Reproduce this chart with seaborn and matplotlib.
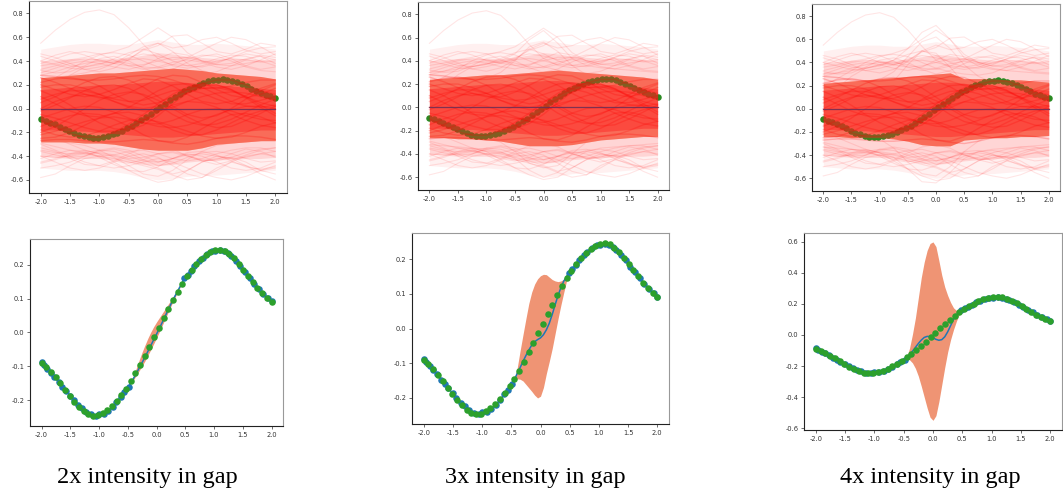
import numpy as np
import pandas as pd
import matplotlib
matplotlib.use("Agg")
import matplotlib.pyplot as plt
import seaborn as sns

# ---------------- data ----------------
# latent function sampled on an even grid (green dots)
X_TRUE = np.linspace(-2, 2, 50)
Y_TRUE = [-0.090, -0.103, -0.117, -0.133, -0.151, -0.170, -0.188, -0.205, -0.221, -0.234,
          -0.242, -0.246, -0.245, -0.239, -0.229, -0.217, -0.202, -0.185, -0.166, -0.145,
          -0.121, -0.096, -0.069, -0.042, -0.014,
          0.014, 0.042, 0.069, 0.096, 0.121, 0.145, 0.166, 0.185, 0.202, 0.217,
          0.229, 0.238, 0.244, 0.245, 0.242, 0.233, 0.220, 0.204, 0.186, 0.168,
          0.150, 0.132, 0.116, 0.102, 0.090]

# observations outside the gap (blue dots)
OBS_X = [-2.00, -1.96, -1.90, -1.84, -1.78, -1.70, -1.64, -1.58, -1.50, -1.44, -1.36, -1.30,
         -1.22, -1.14, -1.06, -1.00, -0.92, -0.84, -0.76, -0.70, -0.62, -0.56, -0.48,
         0.48, 0.54, 0.60, 0.66, 0.74, 0.80, 0.88, 0.96, 1.02, 1.10, 1.18, 1.24, 1.30,
         1.38, 1.46, 1.54, 1.62, 1.70, 1.78, 1.86, 1.94, 2.00]
OBS_Y = [-0.087, -0.097, -0.107, -0.119, -0.131, -0.147, -0.160, -0.172, -0.187, -0.199, -0.214, -0.224,
         -0.235, -0.242, -0.246, -0.240, -0.240, -0.232, -0.220, -0.207, -0.190, -0.177, -0.160,
         0.160, 0.171, 0.183, 0.196, 0.211, 0.221, 0.232, 0.240, 0.241, 0.243, 0.240, 0.235, 0.226,
         0.212, 0.196, 0.178, 0.162, 0.145, 0.129, 0.115, 0.101, 0.092]

# posterior mean and band inside the gap
BAND_X = [-0.48, -0.45, -0.40, -0.35, -0.30, -0.25, -0.20, -0.15, -0.10, -0.05, 0.00,
          0.05, 0.10, 0.15, 0.20, 0.25, 0.30, 0.35, 0.40, 0.45, 0.48]

MEAN_2X = [-0.160, -0.150, -0.136, -0.121, -0.105, -0.089, -0.073, -0.056, -0.039, -0.022, -0.005,
           0.012, 0.030, 0.048, 0.066, 0.084, 0.101, 0.117, 0.133, 0.148, 0.160]
HI_2X = [-0.160, -0.148, -0.128, -0.105, -0.081, -0.058, -0.037, -0.017, 0.001, 0.017, 0.031,
         0.044, 0.057, 0.070, 0.083, 0.096, 0.109, 0.122, 0.136, 0.149, 0.160]
LO_2X = [-0.160, -0.152, -0.140, -0.127, -0.113, -0.099, -0.084, -0.068, -0.051, -0.034, -0.016,
         0.002, 0.021, 0.040, 0.059, 0.078, 0.096, 0.114, 0.131, 0.147, 0.160]

MEAN_3X = [-0.160, -0.148, -0.130, -0.113, -0.095, -0.078, -0.062, -0.048, -0.038, -0.032, -0.027,
           -0.018, -0.004, 0.015, 0.040, 0.068, 0.095, 0.118, 0.137, 0.150, 0.160]
HI_3X = [-0.160, -0.146, -0.115, -0.065, -0.018, 0.028, 0.072, 0.105, 0.128, 0.143, 0.152,
         0.156, 0.155, 0.148, 0.141, 0.137, 0.135, 0.137, 0.142, 0.150, 0.160]
LO_3X = [-0.160, -0.150, -0.145, -0.146, -0.151, -0.161, -0.171, -0.181, -0.192, -0.200, -0.195,
         -0.170, -0.130, -0.095, -0.058, -0.015, 0.028, 0.068, 0.105, 0.140, 0.160]

MEAN_4X = [-0.160, -0.148, -0.128, -0.105, -0.080, -0.055, -0.033, -0.016, -0.009, -0.010, -0.018,
           -0.028, -0.034, -0.030, -0.012, 0.020, 0.060, 0.100, 0.130, 0.148, 0.160]
HI_4X = [-0.160, -0.145, -0.085, 0.005, 0.110, 0.240, 0.370, 0.470, 0.545, 0.590, 0.600,
         0.570, 0.480, 0.385, 0.310, 0.255, 0.210, 0.175, 0.158, 0.155, 0.160]
LO_4X = [-0.160, -0.150, -0.160, -0.180, -0.215, -0.265, -0.330, -0.400, -0.470, -0.530, -0.550,
         -0.520, -0.430, -0.320, -0.210, -0.110, -0.030, 0.035, 0.090, 0.135, 0.160]

# function samples (red curves) on a coarse grid
KNOTS_X = np.linspace(-2, 2, 17)
PRIOR_MEAN = [0.0] * 17

OUTER_SAMPLES = [
    [0.55, 0.66, 0.75, 0.81, 0.83, 0.79, 0.68, 0.54, 0.42, 0.36, 0.34, 0.36, 0.40, 0.42, 0.41, 0.39, 0.40],
    [0.20, 0.26, 0.33, 0.40, 0.45, 0.48, 0.52, 0.60, 0.68, 0.60, 0.47, 0.40, 0.39, 0.43, 0.48, 0.51, 0.52],
    [0.46, 0.43, 0.38, 0.33, 0.31, 0.34, 0.41, 0.50, 0.55, 0.51, 0.53, 0.58, 0.60, 0.55, 0.49, 0.46, 0.48],
    [0.40, 0.45, 0.48, 0.45, 0.40, 0.38, 0.42, 0.49, 0.53, 0.61, 0.62, 0.55, 0.48, 0.46, 0.50, 0.55, 0.53],
    [0.10, 0.18, 0.28, 0.35, 0.38, 0.39, 0.43, 0.46, 0.44, 0.41, 0.43, 0.49, 0.55, 0.60, 0.58, 0.52, 0.45],
    [0.36, 0.38, 0.41, 0.43, 0.46, 0.47, 0.45, 0.40, 0.35, 0.32, 0.30, 0.29, 0.31, 0.36, 0.41, 0.45, 0.43],
    [-0.45, -0.42, -0.38, -0.35, -0.38, -0.45, -0.52, -0.58, -0.62, -0.60, -0.52, -0.45, -0.42, -0.41, -0.45, -0.52, -0.55],
    [-0.58, -0.55, -0.48, -0.42, -0.40, -0.42, -0.45, -0.48, -0.51, -0.56, -0.60, -0.58, -0.50, -0.45, -0.48, -0.52, -0.50],
    [-0.30, -0.35, -0.40, -0.45, -0.48, -0.50, -0.48, -0.45, -0.42, -0.45, -0.50, -0.55, -0.58, -0.60, -0.57, -0.52, -0.48],
    [-0.40, -0.45, -0.50, -0.52, -0.50, -0.45, -0.40, -0.38, -0.41, -0.48, -0.55, -0.58, -0.52, -0.45, -0.40, -0.38, -0.40],
    [-0.20, -0.25, -0.30, -0.35, -0.38, -0.40, -0.43, -0.46, -0.50, -0.55, -0.52, -0.45, -0.40, -0.42, -0.48, -0.55, -0.60],
    [-0.50, -0.48, -0.45, -0.40, -0.35, -0.33, -0.35, -0.40, -0.45, -0.42, -0.38, -0.40, -0.45, -0.50, -0.52, -0.50, -0.45],
    [0.30, 0.34, 0.38, 0.40, 0.38, 0.35, 0.33, 0.36, 0.42, 0.47, 0.45, 0.40, 0.37, 0.38, 0.42, 0.44, 0.41],
    [0.44, 0.40, 0.36, 0.35, 0.37, 0.42, 0.47, 0.50, 0.46, 0.40, 0.36, 0.35, 0.38, 0.43, 0.46, 0.44, 0.38],
    [-0.36, -0.39, -0.41, -0.40, -0.36, -0.34, -0.37, -0.43, -0.48, -0.46, -0.41, -0.37, -0.36, -0.38, -0.42, -0.45, -0.44],
    [-0.46, -0.43, -0.39, -0.37, -0.40, -0.44, -0.46, -0.43, -0.38, -0.36, -0.39, -0.44, -0.47, -0.44, -0.39, -0.35, -0.33],
    [0.32, 0.30, 0.31, 0.36, 0.42, 0.44, 0.40, 0.34, 0.30, 0.33, 0.39, 0.44, 0.46, 0.42, 0.36, 0.33, 0.35],
    [-0.33, -0.36, -0.42, -0.47, -0.48, -0.44, -0.38, -0.33, -0.31, -0.34, -0.40, -0.44, -0.43, -0.38, -0.34, -0.36, -0.41],
    [0.38, 0.42, 0.46, 0.48, 0.46, 0.41, 0.36, 0.33, 0.35, 0.39, 0.41, 0.39, 0.35, 0.33, 0.36, 0.41, 0.46],
    [-0.42, -0.38, -0.35, -0.36, -0.41, -0.47, -0.52, -0.53, -0.49, -0.42, -0.37, -0.36, -0.39, -0.44, -0.49, -0.51, -0.49],
    [0.33, 0.36, 0.40, 0.42, 0.41, 0.38, 0.36, 0.37, 0.40, 0.43, 0.43, 0.40, 0.37, 0.36, 0.38, 0.40, 0.41],
    [-0.35, -0.37, -0.38, -0.37, -0.35, -0.36, -0.40, -0.44, -0.45, -0.42, -0.39, -0.38, -0.40, -0.42, -0.41, -0.38, -0.36],
    [0.40, 0.37, 0.34, 0.33, 0.35, 0.38, 0.41, 0.42, 0.40, 0.37, 0.36, 0.38, 0.42, 0.45, 0.44, 0.40, 0.36],
    [-0.40, -0.41, -0.40, -0.38, -0.37, -0.39, -0.42, -0.41, -0.38, -0.37, -0.40, -0.43, -0.44, -0.41, -0.37, -0.34, -0.33],
    [0.28, 0.31, 0.35, 0.38, 0.40, 0.40, 0.38, 0.35, 0.34, 0.37, 0.42, 0.45, 0.44, 0.40, 0.35, 0.32, 0.31],
    [-0.29, -0.32, -0.35, -0.38, -0.40, -0.39, -0.36, -0.35, -0.38, -0.42, -0.44, -0.42, -0.38, -0.35, -0.33, -0.33, -0.36],
]

CORE_SAMPLES = [
    [0.22, 0.25, 0.26, 0.24, 0.19, 0.12, 0.06, 0.03, 0.05, 0.10, 0.16, 0.21, 0.24, 0.24, 0.20, 0.15, 0.12],
    [-0.20, -0.15, -0.08, 0.00, 0.07, 0.12, 0.14, 0.12, 0.07, 0.00, -0.07, -0.13, -0.16, -0.15, -0.10, -0.04, 0.02],
    [0.05, 0.10, 0.16, 0.22, 0.26, 0.27, 0.24, 0.18, 0.10, 0.02, -0.05, -0.08, -0.06, 0.00, 0.08, 0.15, 0.20],
    [-0.10, -0.16, -0.21, -0.24, -0.24, -0.20, -0.13, -0.05, 0.04, 0.12, 0.18, 0.21, 0.20, 0.16, 0.10, 0.03, -0.04],
    [0.15, 0.10, 0.03, -0.05, -0.12, -0.17, -0.18, -0.14, -0.06, 0.04, 0.13, 0.19, 0.20, 0.16, 0.09, 0.01, -0.06],
    [-0.25, -0.24, -0.20, -0.14, -0.08, -0.04, -0.03, -0.06, -0.12, -0.18, -0.22, -0.22, -0.18, -0.12, -0.06, -0.02, 0.00],
    [0.00, 0.06, 0.10, 0.12, 0.10, 0.06, 0.02, 0.00, 0.02, 0.07, 0.13, 0.17, 0.18, 0.15, 0.10, 0.05, 0.02],
    [-0.05, -0.08, -0.12, -0.16, -0.19, -0.19, -0.16, -0.10, -0.03, 0.03, 0.06, 0.05, 0.01, -0.05, -0.10, -0.14, -0.16],
    [0.26, 0.22, 0.17, 0.12, 0.09, 0.09, 0.13, 0.19, 0.25, 0.28, 0.27, 0.22, 0.16, 0.11, 0.09, 0.12, 0.17],
    [-0.15, -0.10, -0.06, -0.04, -0.05, -0.09, -0.15, -0.22, -0.27, -0.28, -0.24, -0.17, -0.10, -0.05, -0.04, -0.07, -0.12],
    [0.10, 0.04, -0.02, -0.06, -0.07, -0.04, 0.01, 0.08, 0.15, 0.20, 0.21, 0.18, 0.12, 0.06, 0.02, 0.01, 0.03],
    [-0.02, 0.03, 0.09, 0.15, 0.19, 0.20, 0.17, 0.11, 0.03, -0.05, -0.11, -0.14, -0.13, -0.09, -0.03, 0.03, 0.08],
    [0.18, 0.20, 0.20, 0.17, 0.12, 0.06, 0.01, -0.02, -0.02, 0.01, 0.06, 0.10, 0.13, 0.14, 0.13, 0.10, 0.07],
    [-0.22, -0.19, -0.15, -0.11, -0.08, -0.07, -0.09, -0.12, -0.15, -0.16, -0.14, -0.10, -0.05, -0.01, 0.02, 0.02, 0.00],
    [0.28, 0.27, 0.25, 0.24, 0.24, 0.25, 0.27, 0.28, 0.27, 0.24, 0.20, 0.17, 0.17, 0.19, 0.22, 0.24, 0.24],
    [-0.27, -0.26, -0.26, -0.27, -0.28, -0.28, -0.27, -0.26, -0.27, -0.29, -0.30, -0.28, -0.25, -0.23, -0.23, -0.24, -0.26],
    [0.08, 0.12, 0.15, 0.15, 0.12, 0.08, 0.06, 0.07, 0.11, 0.15, 0.16, 0.13, 0.08, 0.04, 0.04, 0.07, 0.10],
    [-0.08, -0.04, 0.00, 0.02, 0.01, -0.03, -0.08, -0.12, -0.13, -0.10, -0.05, -0.01, 0.00, -0.02, -0.06, -0.09, -0.10],
    [0.20, 0.16, 0.12, 0.10, 0.12, 0.16, 0.21, 0.25, 0.24, 0.19, 0.12, 0.06, 0.04, 0.06, 0.11, 0.17, 0.21],
    [-0.18, -0.22, -0.24, -0.23, -0.19, -0.14, -0.10, -0.09, -0.11, -0.15, -0.19, -0.23, -0.25, -0.24, -0.20, -0.15, -0.12],
]

# extra samples that spread out inside the gap, one set per intensity
GAP_SAMPLES_2X = [
    [0.25, 0.26, 0.28, 0.30, 0.33, 0.38, 0.45, 0.52, 0.55, 0.48, 0.38, 0.32, 0.29, 0.27, 0.26, 0.25, 0.24],
    [-0.26, -0.27, -0.29, -0.31, -0.35, -0.41, -0.48, -0.55, -0.57, -0.52, -0.43, -0.36, -0.31, -0.29, -0.28, -0.27, -0.26],
]
GAP_SAMPLES_3X = [
    [0.30, 0.31, 0.33, 0.35, 0.37, 0.40, 0.46, 0.58, 0.66, 0.55, 0.42, 0.36, 0.34, 0.33, 0.32, 0.31, 0.30],
    [-0.32, -0.33, -0.34, -0.35, -0.36, -0.38, -0.44, -0.54, -0.60, -0.56, -0.45, -0.38, -0.35, -0.34, -0.33, -0.32, -0.31],
    [0.18, 0.19, 0.20, 0.22, 0.25, 0.30, 0.40, 0.52, 0.56, 0.48, 0.36, 0.28, 0.24, 0.22, 0.21, 0.20, 0.19],
    [-0.15, -0.16, -0.18, -0.21, -0.25, -0.30, -0.38, -0.48, -0.52, -0.50, -0.40, -0.30, -0.24, -0.20, -0.18, -0.17, -0.16],
]
GAP_SAMPLES_4X = [
    [0.30, 0.31, 0.33, 0.35, 0.38, 0.42, 0.52, 0.66, 0.72, 0.60, 0.44, 0.37, 0.34, 0.33, 0.32, 0.31, 0.30],
    [-0.33, -0.34, -0.35, -0.36, -0.38, -0.42, -0.52, -0.63, -0.64, -0.55, -0.43, -0.37, -0.35, -0.34, -0.33, -0.32, -0.31],
    [0.15, 0.16, 0.18, 0.21, 0.25, 0.32, 0.45, 0.58, 0.62, 0.52, 0.38, 0.28, 0.23, 0.21, 0.20, 0.19, 0.18],
    [-0.14, -0.15, -0.17, -0.21, -0.26, -0.34, -0.46, -0.56, -0.58, -0.50, -0.37, -0.28, -0.22, -0.19, -0.17, -0.16, -0.15],
    [0.02, 0.03, 0.05, 0.08, 0.14, 0.24, 0.38, 0.50, 0.48, 0.36, 0.22, 0.12, 0.07, 0.05, 0.04, 0.03, 0.02],
]

# envelopes of the bulk of the samples
CORE_HI_2X = [0.26, 0.27, 0.28, 0.29, 0.30, 0.30, 0.31, 0.32, 0.33, 0.34, 0.33, 0.32, 0.30, 0.29, 0.28, 0.27, 0.25]
CORE_LO_2X = [-0.28, -0.28, -0.28, -0.29, -0.29, -0.30, -0.32, -0.34, -0.35, -0.35, -0.35, -0.33, -0.30, -0.29, -0.28, -0.27, -0.27]
CORE_HI_3X = [0.24, 0.25, 0.26, 0.27, 0.28, 0.28, 0.29, 0.30, 0.31, 0.32, 0.31, 0.30, 0.29, 0.28, 0.27, 0.26, 0.24]
CORE_LO_3X = [-0.26, -0.26, -0.27, -0.27, -0.28, -0.29, -0.31, -0.33, -0.33, -0.33, -0.32, -0.30, -0.28, -0.27, -0.26, -0.25, -0.25]
CORE_HI_4X = [0.22, 0.23, 0.24, 0.25, 0.26, 0.27, 0.28, 0.29, 0.30, 0.31, 0.26, 0.26, 0.26, 0.25, 0.25, 0.24, 0.23]
CORE_LO_4X = [-0.24, -0.24, -0.25, -0.25, -0.25, -0.26, -0.28, -0.31, -0.32, -0.32, -0.27, -0.26, -0.25, -0.25, -0.24, -0.24, -0.23]
INNER_HI = [0.16, 0.17, 0.18, 0.19, 0.20, 0.20, 0.21, 0.22, 0.23, 0.23, 0.22, 0.21, 0.20, 0.19, 0.18, 0.17, 0.16]
INNER_LO = [-0.18, -0.18, -0.19, -0.19, -0.20, -0.21, -0.22, -0.23, -0.24, -0.24, -0.23, -0.22, -0.21, -0.20, -0.19, -0.18, -0.18]
HALO_IN_HI = [0.40, 0.41, 0.42, 0.42, 0.42, 0.42, 0.43, 0.45, 0.47, 0.46, 0.44, 0.43, 0.42, 0.42, 0.42, 0.41, 0.40]
HALO_IN_LO = [-0.40, -0.41, -0.42, -0.42, -0.42, -0.43, -0.45, -0.47, -0.48, -0.47, -0.45, -0.44, -0.43, -0.43, -0.42, -0.42, -0.41]
HALO_OUT_HI = [0.50, 0.52, 0.54, 0.55, 0.55, 0.54, 0.54, 0.56, 0.58, 0.56, 0.54, 0.54, 0.55, 0.54, 0.53, 0.52, 0.50]
HALO_OUT_LO = [-0.50, -0.51, -0.52, -0.52, -0.52, -0.53, -0.55, -0.58, -0.60, -0.59, -0.57, -0.56, -0.56, -0.55, -0.54, -0.53, -0.52]

CAPTIONS = ["2x intensity in gap", "3x intensity in gap", "4x intensity in gap"]

# ---------------- drawing ----------------
W, H = 1063, 497
fig = plt.figure(figsize=(W / 100, H / 100), dpi=100)


def frac(left, top, right, bottom):
    return [left / W, 1 - bottom / H, (right - left) / W, (bottom - top) / H]


TOP_BOXES = [frac(29, 1, 287, 193), frac(418, 2, 669, 190), frac(812, 4, 1060, 191)]
BOT_BOXES = [frac(30, 239, 283, 426), frac(412, 233, 669, 424), frac(804, 233, 1062, 430)]
CAPTION_X = [147, 535, 930]

BLUE = "#1f77b4"
GREEN = "#2ca02c"
BAND = "#ef9474"


def style_axes(ax, yticks):
    ax.set_xticks(np.arange(-2, 2.01, 0.5))
    ax.set_yticks(yticks)
    ax.xaxis.set_major_formatter(matplotlib.ticker.FormatStrFormatter("%.1f"))
    ax.yaxis.set_major_formatter(matplotlib.ticker.FormatStrFormatter("%.1f"))
    ax.tick_params(labelsize=4.8, length=2.5, width=0.5, pad=1.5, colors="#333333")
    for side, sp in ax.spines.items():
        sp.set_linewidth(0.8)
        sp.set_color("#222222" if side in ("left", "bottom") else "#999999")
    ax.set_xlabel("")
    ax.set_ylabel("")


def long_frame(samples):
    rows = []
    for k, ys in enumerate(samples):
        for x, y in zip(KNOTS_X, ys):
            rows.append((k, x, y))
    return pd.DataFrame(rows, columns=["curve", "x", "y"])


top_sets = [
    (CORE_HI_2X, CORE_LO_2X, GAP_SAMPLES_2X),
    (CORE_HI_3X, CORE_LO_3X, GAP_SAMPLES_3X),
    (CORE_HI_4X, CORE_LO_4X, GAP_SAMPLES_4X),
]

for box, (chi, clo, gaps) in zip(TOP_BOXES, top_sets):
    ax = fig.add_axes(box)
    # soft haze of the many faint samples
    ax.fill_between(KNOTS_X, HALO_OUT_LO, HALO_OUT_HI, color="red", alpha=0.06, lw=0, zorder=1)
    ax.fill_between(KNOTS_X, HALO_IN_LO, HALO_IN_HI, color="red", alpha=0.11, lw=0, zorder=1)
    sns.lineplot(data=long_frame(OUTER_SAMPLES + gaps), x="x", y="y", units="curve",
                 estimator=None, sort=False, color="red", alpha=0.10, lw=0.8, ax=ax, zorder=1.5)
    # dense bulk of samples, with the latent function dots seen through it
    ax.fill_between(KNOTS_X, clo, chi, color="#f6a080", lw=0, zorder=2)
    sns.scatterplot(x=X_TRUE, y=Y_TRUE, color="#2a8a22", s=22, linewidth=0, ax=ax, zorder=2.5)
    ax.fill_between(KNOTS_X, clo, chi, color="#ff2020", alpha=0.40, lw=0, zorder=3)
    ax.fill_between(KNOTS_X, INNER_LO, INNER_HI, color="#ff1c1c", alpha=0.42, lw=0, zorder=3)
    sns.lineplot(data=long_frame(CORE_SAMPLES), x="x", y="y", units="curve",
                 estimator=None, sort=False, color="red", alpha=0.22, lw=1.0, ax=ax, zorder=3.5)
    # prior mean
    ax.plot(KNOTS_X, PRIOR_MEAN, color="#6a2d55", lw=0.9, alpha=0.85, zorder=4)
    ax.set_xlim(-2.2, 2.2)
    ax.set_ylim(-0.71, 0.905)
    style_axes(ax, np.arange(-0.6, 0.81, 0.2))

obs_x = np.array(OBS_X)
obs_y = np.array(OBS_Y)
left = obs_x < BAND_X[0]
right = obs_x > BAND_X[-1]

bot_sets = [
    (MEAN_2X, LO_2X, HI_2X, (-0.277, 0.277), np.arange(-0.2, 0.21, 0.1)),
    (MEAN_3X, LO_3X, HI_3X, (-0.275, 0.275), np.arange(-0.2, 0.21, 0.1)),
    (MEAN_4X, LO_4X, HI_4X, (-0.6125, 0.6575), np.arange(-0.6, 0.61, 0.2)),
]

for box, (mean, lo, hi, ylim, yt) in zip(BOT_BOXES, bot_sets):
    ax = fig.add_axes(box)
    ax.fill_between(BAND_X, lo, hi, color=BAND, lw=0, zorder=1)
    line_x = np.concatenate([obs_x[left], BAND_X, obs_x[right]])
    line_y = np.concatenate([obs_y[left], mean, obs_y[right]])
    ax.plot(line_x, line_y, color=BLUE, lw=1.1, zorder=2)
    sns.scatterplot(x=obs_x, y=obs_y, color=BLUE, s=22, linewidth=0, ax=ax, zorder=3)
    sns.scatterplot(x=X_TRUE, y=Y_TRUE, color=GREEN, s=22, linewidth=0, ax=ax, zorder=4)
    ax.set_xlim(-2.2, 2.2)
    ax.set_ylim(*ylim)
    style_axes(ax, yt)

for cx, text in zip(CAPTION_X, CAPTIONS):
    fig.text(cx / W, 1 - 478 / H, text, ha="center", va="center",
             family="Liberation Serif", fontsize=17.5, color="black")

fig.savefig("out.png", dpi=100)
